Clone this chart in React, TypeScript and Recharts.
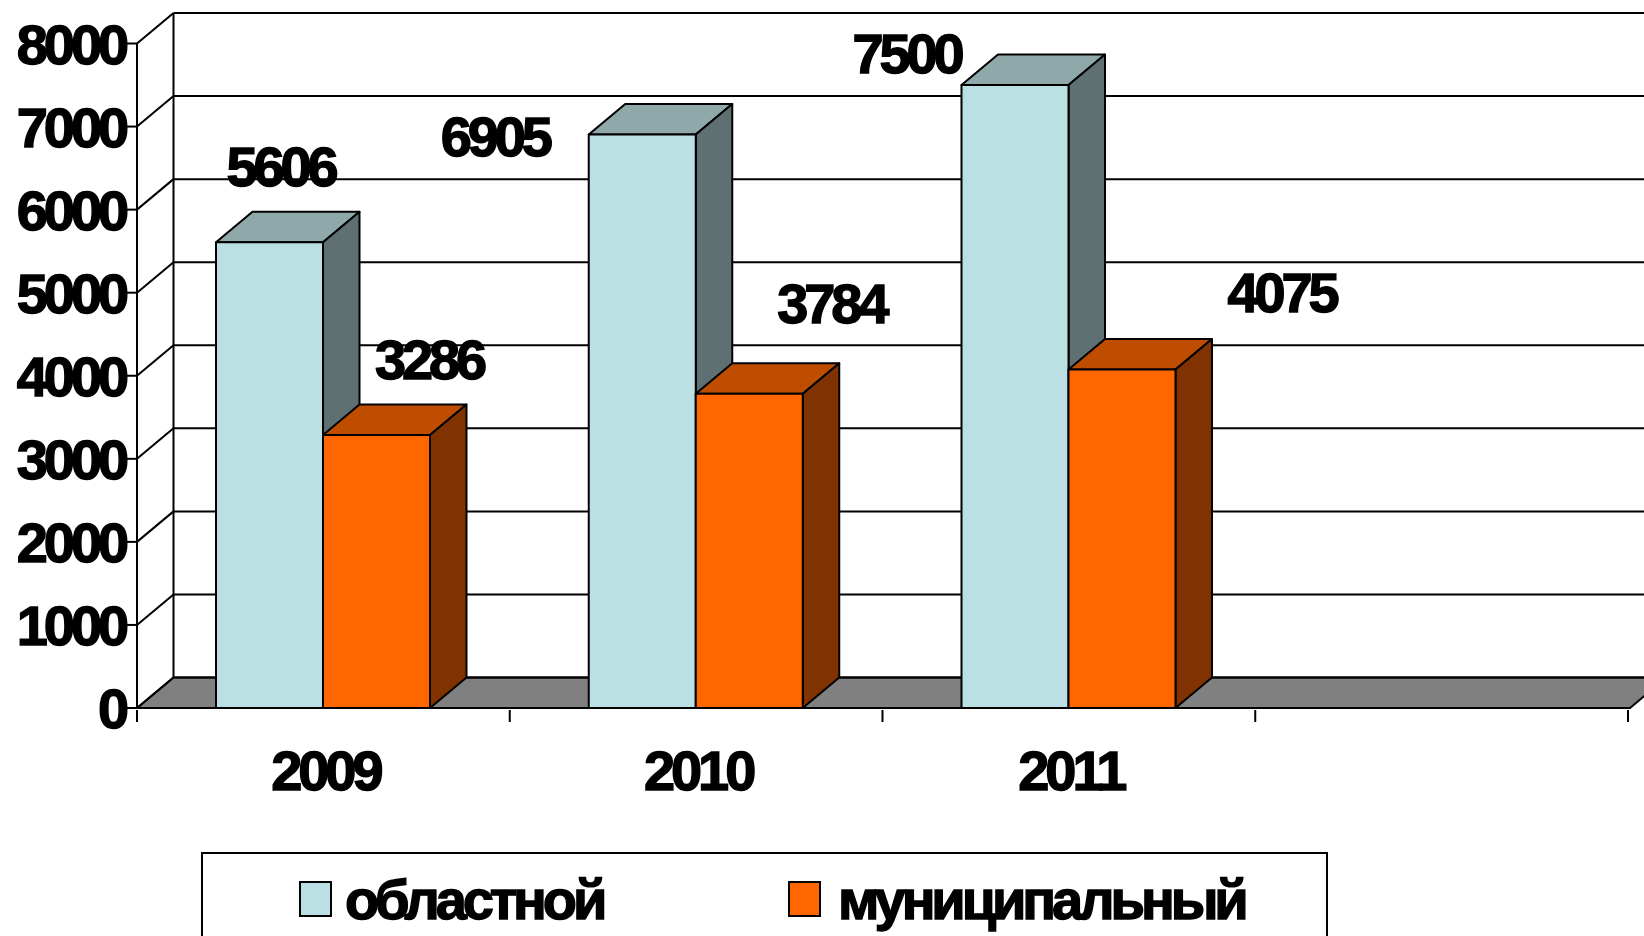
import React from "react";
import { BarChart, Bar, XAxis, YAxis, CartesianGrid, Legend, LabelList } from "recharts";

const categories = ["2009", "2010", "2011", ""];
const oblastnoi = [5606, 6905, 7500, null];
const municipalnyi = [3286, 3784, 4075, null];
const valueTicks = [0, 1000, 2000, 3000, 4000, 5000, 6000, 7000, 8000];

const seriesNames = { a: "областной", b: "муниципальный" };

const rows = categories.map((c, i) => ({ cat: c, a: oblastnoi[i], b: municipalnyi[i] }));

// layout
const W = 1644;
const H = 936;
const LEFT = 137;
const TOP = 43.5;
const BOTTOM_H = 228;
const RIGHT = 14;
const X_PAD_RIGHT = 2;
const DX = 36.5;
const DY = 30.5;
const BAND = 372.75;
const FONT = '"Liberation Sans", Arial, sans-serif';
const LW = 2;

const textStyle = {
  fontFamily: FONT,
  fontWeight: 700,
  fontSize: 56,
  letterSpacing: -4.1,
  fill: "#000",
  stroke: "#000",
  strokeWidth: 1.4,
};

// label nudges from the bar's centre/top (dx, dy of text centre)
const nudgeA = [[11, -76], [-147.5, 2], [-108.5, -32]];
const nudgeB = [[52.5, -76], [82, -91], [159.5, -78]];

function Box3D(props: any) {
  const { x, y, width, height, fill, topFill, sideFill } = props;
  if (height == null || height <= 0) return null;
  const s = { stroke: "#000", strokeWidth: LW, strokeLinejoin: "round" as const };
  return (
    <g>
      <polygon points={`${x},${y} ${x + DX},${y - DY} ${x + width + DX},${y - DY} ${x + width},${y}`} fill={topFill} {...s} />
      <polygon points={`${x + width},${y} ${x + width + DX},${y - DY} ${x + width + DX},${y + height - DY} ${x + width},${y + height}`} fill={sideFill} {...s} />
      <rect x={x} y={y} width={width} height={height} fill={fill} {...s} />
    </g>
  );
}

function wallLine(props: any) {
  const { x1, x2, y1, index, key, y, height } = props;
  const isFloor = Math.abs(y1 - (y + height)) < 0.5;
  return (
    <g key={key ?? index}>
      {isFloor && (
        <polygon
          points={`${x1},${y1} ${x2},${y1} ${x2 + DX},${y1 - DY} ${x1 + DX},${y1 - DY}`}
          fill="#808080"
          stroke="#000"
          strokeWidth={LW}
        />
      )}
      {isFloor && <line x1={x1 + DX} x2={x1 + DX} y1={y - DY} y2={y + height - DY} stroke="#000" strokeWidth={LW} />}
      <line x1={x1} y1={y1} x2={x1 + DX} y2={y1 - DY} stroke="#000" strokeWidth={LW} />
      <line x1={x1 + DX} y1={y1 - DY} x2={x2 + DX} y2={y1 - DY} stroke="#000" strokeWidth={LW} />
    </g>
  );
}

function CategoryTick(props: any) {
  const { x, y, payload, index } = props;
  return (
    <g>
      <line x1={x - BAND / 2} x2={x - BAND / 2} y1={y} y2={y + 12} stroke="#000" strokeWidth={LW} />
      {index === categories.length - 1 && (
        <line x1={x + BAND / 2} x2={x + BAND / 2} y1={y} y2={y + 12} stroke="#000" strokeWidth={LW} />
      )}
      <text x={x + 2} y={y + 80} textAnchor="middle" style={textStyle as any}>
        {payload.value}
      </text>
    </g>
  );
}

function ValueTick(props: any) {
  const { y, payload } = props;
  return (
    <g>
      <line x1={LEFT - 11} x2={LEFT} y1={y} y2={y} stroke="#000" strokeWidth={LW} />
      <text x={LEFT - 12} y={y + 20} textAnchor="end" style={textStyle as any}>
        {payload.value}
      </text>
    </g>
  );
}

function makeLabel(nudges: number[][]) {
  return function BarValue(props: any) {
    const { x, y, width, value, index } = props;
    if (value == null) return null;
    const n = nudges[index];
    return (
      <text x={x + width / 2 + n[0]} y={y + n[1] + 20} textAnchor="middle" style={textStyle as any}>
        {value}
      </text>
    );
  };
}

function LegendBox(props: any) {
  const items = props.payload || [];
  const swatchLeft = [96, 585];
  const textLeft = [142, 635];
  return (
    <div style={{ position: "relative", width: 1127, height: 130, border: "2px solid #000", boxSizing: "border-box", background: "#fff" }}>
      {items.map((it: any, i: number) => (
        <React.Fragment key={i}>
          <div
            style={{
              position: "absolute",
              left: swatchLeft[i],
              top: 27,
              width: 33,
              height: 36,
              boxSizing: "border-box",
              background: it.color,
              border: "2px solid #000",
            }}
          />
          <div
            style={{
              position: "absolute",
              left: textLeft[i],
              top: 14,
              fontFamily: FONT,
              fontWeight: 700,
              fontSize: 56,
              lineHeight: "63px",
              letterSpacing: -4.1,
              WebkitTextStroke: "1.4px #000",
              color: "#000",
              whiteSpace: "nowrap",
            }}
          >
            {it.value}
          </div>
        </React.Fragment>
      ))}
    </div>
  );
}

export default function App() {
  return (
    <div style={{ position: "absolute", left: 0, top: 0, width: W, height: H, overflow: "hidden", background: "#fff" }}>
      <BarChart
        width={W}
        height={H}
        data={rows}
        margin={{ top: TOP, right: RIGHT, bottom: 0, left: 0 }}
        barSize={107}
        barGap={0}
      >
        <CartesianGrid horizontal={wallLine as any} vertical={false} syncWithTicks />
        <XAxis
          dataKey="cat"
          height={BOTTOM_H}
          interval={0}
          padding={{ left: 0, right: X_PAD_RIGHT }}
          tick={CategoryTick as any}
          tickLine={false}
          tickSize={0}
          axisLine={{ stroke: "#000", strokeWidth: LW }}
        />
        <YAxis
          width={LEFT}
          domain={[0, 8000]}
          ticks={valueTicks}
          interval={0}
          tick={ValueTick as any}
          tickLine={false}
          tickSize={0}
          axisLine={{ stroke: "#000", strokeWidth: LW }}
        />
        <Legend
          layout="horizontal"
          verticalAlign="middle"
          align="center"
          itemSorter={null as any}
          content={LegendBox as any}
          wrapperStyle={{ position: "absolute", left: 201, top: 852, width: 1127, height: 130 }}
        />
        <Bar
          dataKey="a"
          name={seriesNames.a}
          fill="#BBE0E3"
          isAnimationActive={false}
          shape={(p: any) => <Box3D {...p} topFill="#8FA9AB" sideFill="#5F7072" />}
        >
          <LabelList dataKey="a" content={makeLabel(nudgeA) as any} />
        </Bar>
        <Bar
          dataKey="b"
          name={seriesNames.b}
          fill="#FF6600"
          isAnimationActive={false}
          shape={(p: any) => <Box3D {...p} topFill="#BF4D00" sideFill="#803300" />}
        >
          <LabelList dataKey="b" content={makeLabel(nudgeB) as any} />
        </Bar>
      </BarChart>
    </div>
  );
}
